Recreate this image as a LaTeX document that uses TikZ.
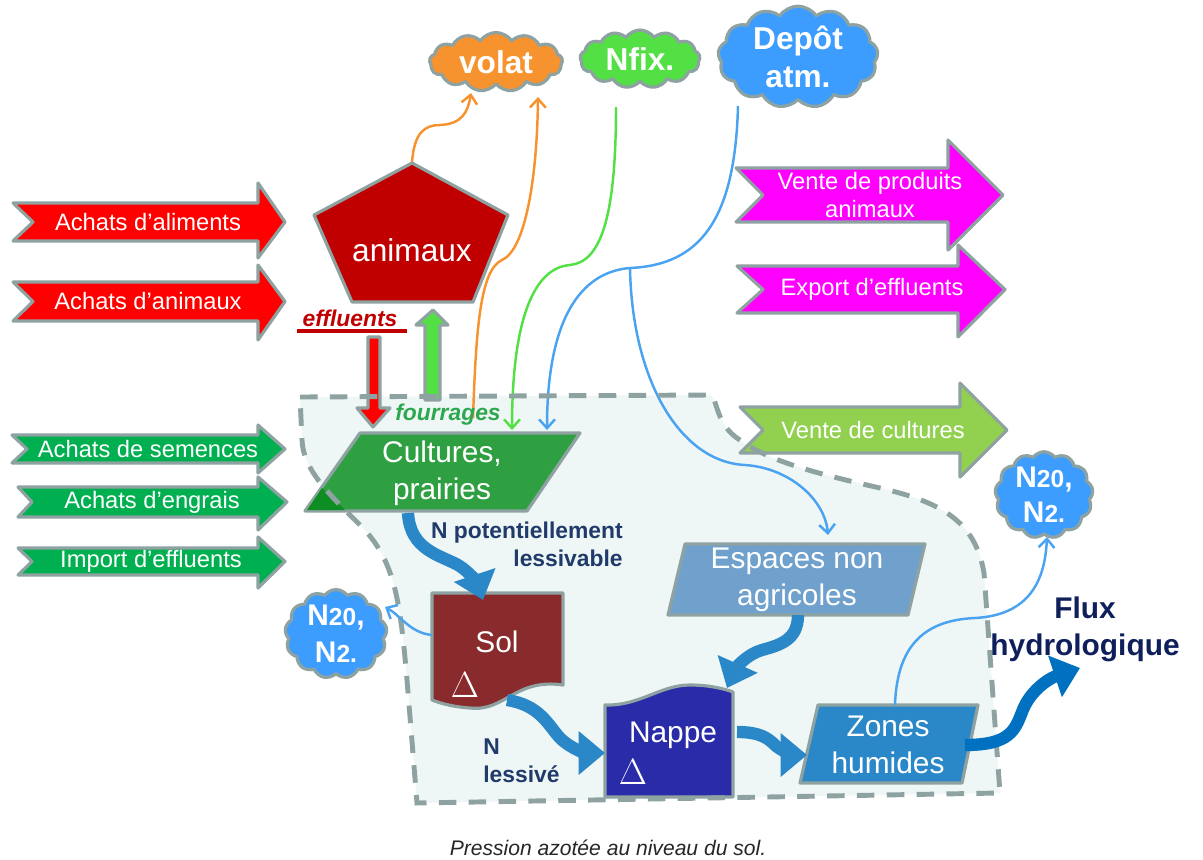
\documentclass[tikz,border=0pt]{standalone}
\usepackage{fontspec}
\setmainfont{Liberation Sans}
\usetikzlibrary{arrows.meta, shapes.symbols, calc}

\definecolor{rimgray}{HTML}{8FA2A2}
\definecolor{zonefill}{HTML}{EEF6F6}
\definecolor{inred}{HTML}{FF0000}
\definecolor{ingreen}{HTML}{00B050}
\definecolor{outpink}{HTML}{FF00FF}
\definecolor{outlime}{HTML}{92D050}
\definecolor{animred}{HTML}{C00000}
\definecolor{volorange}{HTML}{F7932E}
\definecolor{nfixgreen}{HTML}{52E044}
\definecolor{skyblue}{HTML}{3C9DFF}
\definecolor{lineblue}{HTML}{4AA3F0}
\definecolor{cultgreen}{HTML}{2FA042}
\definecolor{cultdark}{HTML}{0E8E22}
\definecolor{soilred}{HTML}{892B2C}
\definecolor{nappeblue}{HTML}{2A2BA8}
\definecolor{espblue}{HTML}{70A1CC}
\definecolor{zoneblue}{HTML}{2A88C8}
\definecolor{fluxblue}{HTML}{0070C0}
\definecolor{potnavy}{HTML}{203A6A}
\definecolor{fluxnavy}{HTML}{0E1F5C}
\definecolor{fourgreen}{HTML}{2EA84F}

\begin{document}
\begin{tikzpicture}[x=0.02cm, y=-0.02cm,
    rim/.style={draw=rimgray, line width=1.8pt, line join=round},
    arrtxt/.style={text=white, font=\fontsize{13.5}{16}\selectfont, align=center, inner sep=0pt},
    boxtxt/.style={text=white, font=\fontsize{17}{21}\selectfont, align=center, inner sep=0pt},
    puff/.style={cloud, cloud puffs=13, cloud puff arc=110, cloud ignores aspect, rim, inner sep=0pt, text=white, align=center, font=\bfseries\fontsize{18}{22}\selectfont},
    flowline/.style={line width=1.4pt, -{Straight Barb[length=5pt,width=9pt]}},
    fat/.style={line width=7pt, draw=zoneblue, -{Triangle[length=15pt,width=24pt]}},
    navytxt/.style={text=potnavy, font=\bfseries\fontsize{13}{16}\selectfont, inner sep=0pt}]

    \useasboundingbox (0,0) rectangle (1203,859);

    % --- zone de l'exploitation ---
    \def\zonepath{(300,397) -- (710,395) .. controls (718,398) and (715,425) .. (740,440)
        .. controls (765,458) and (800,470) .. (880,488) .. controls (940,502) and (975,520) .. (984,573)
        -- (1000,793) -- (417,803) -- (407,680) .. controls (400,600) and (395,560) .. (360,525)
        .. controls (330,495) and (303,470) .. (302,440) -- cycle}
    \fill[zonefill] \zonepath;

    % --- entrees / sorties ---
    \foreach \nm/\xl/\xn/\yt/\yb/\yh/\yl/\xh/\xt/\xtx/\col/\txt in {
        aliments/13/33/203/241/183/258/258/285/148/inred/{Achats d’aliments},
        achanim/13/33/282/321/265/340/258/285/148/inred/{Achats d’animaux},
        semences/12/27/435/463/425/473/258/285/148/ingreen/{Achats de semences},
        engrais/18/32/487/517/477/530/258/287/152/ingreen/{Achats d’engrais},
        import/18/32/548/575/537/588/258/285/151/ingreen/{Import d’effluents},
        produits/736/763/168/222/140/250/948/1003/870/outpink/{Vente de produits\\animaux},
        export/737/763/266/313/245/337/958/1005/872/outpink/{Export d’effluents},
        ventecult/740/763/407/453/383/477/960/1007/873/outlime/{Vente de cultures}}
    {
        \filldraw[rim, fill=\col] (\xl,\yt) -- (\xh,\yt) -- (\xh,\yh) -- (\xt,{(\yt+\yb)/2})
            -- (\xh,\yl) -- (\xh,\yb) -- (\xl,\yb) -- (\xn,{(\yt+\yb)/2}) -- cycle;
        \node[arrtxt] (\nm) at (\xtx,{(\yt+\yb)/2}) {\txt};
    }

    % --- nuages ---
    \node[puff, fill=volorange, minimum width=2.66cm, minimum height=1.18cm] (volat) at (496,62) {volat};
    \node[puff, fill=nfixgreen, minimum width=2.4cm, minimum height=1.16cm] (nfix) at (640,59) {Nfix.};
    \node[puff, fill=skyblue, minimum width=3.2cm, minimum height=1.7cm] (depot) at (798,57) {Depôt\\atm.};
    \node[puff, fill=skyblue, minimum width=2.04cm, minimum height=1.64cm, font=\bfseries\fontsize{17}{21}\selectfont]
        (gasL) at (336,634) {N{\fontsize{14}{14}\selectfont 20},\\N{\fontsize{14}{14}\selectfont 2.}};
    \node[puff, fill=skyblue, minimum width=1.96cm, minimum height=1.68cm, font=\bfseries\fontsize{17}{20}\selectfont]
        (gasR) at (1044,495) {N{\fontsize{14}{14}\selectfont 20},\\N{\fontsize{14}{14}\selectfont 2.}};

    % --- points d'accroche ---
    \coordinate (animtop) at (412,163);
    \coordinate (volin1) at (471,93);
    \coordinate (volin2) at (538,97);
    \coordinate (cultvol) at (473,418);
    \coordinate (nfixout) at (616,107);
    \coordinate (cultnfix) at (512,430);
    \coordinate (depout) at (738,106);
    \coordinate (fork) at (630,268);
    \coordinate (cultdep) at (547,430);
    \coordinate (espin) at (828,535);
    \coordinate (solgas) at (432,635);
    \coordinate (gasLin) at (385,607);
    \coordinate (zonegas) at (895,705);
    \coordinate (gasRin) at (1047,537);

    % --- flux atmospheriques ---
    \draw[flowline, draw=volorange] (animtop) .. controls (414,132) and (425,125) .. (440,125)
        .. controls (462,124) and (468,112) .. (volin1);
    \draw[flowline, draw=volorange] (cultvol) .. controls (476,330) and (480,270) .. (502,260)
        .. controls (525,250) and (537,180) .. (volin2);
    \draw[flowline, draw=nfixgreen] (nfixout) .. controls (616,220) and (600,262) .. (570,265)
        .. controls (530,268) and (512,330) .. (cultnfix);
    \draw[line width=1.4pt, draw=lineblue] (depout) .. controls (735,220) and (700,265) .. (fork);
    \draw[flowline, draw=lineblue] (fork) .. controls (580,272) and (547,320) .. (cultdep);
    \draw[flowline, draw=lineblue] (fork) .. controls (632,380) and (680,462) .. (745,465)
        .. controls (790,468) and (825,500) .. (espin);

    % --- animaux ---
    \filldraw[rim, fill=animred] (animtop) -- (508,215) -- (473,302) -- (352,302) -- (314,215) -- cycle;
    \node[boxtxt, font=\fontsize{18}{20}\selectfont] (anim) at (412,250) {animaux};

    % --- effluents / fourrages ---
    \node[text=animred, font=\bfseries\itshape\fontsize{13}{15}\selectfont, inner sep=0pt] (eff) at (350,318) {effluents};
    \draw[animred, line width=2.3pt] ($(eff.south west)+(-5,4)$) -- ($(eff.south east)+(9,4)$);
    \filldraw[rim, fill=inred] (368,337) -- (380,337) -- (380,408) -- (390,408) -- (373,427)
        -- (357,408) -- (368,408) -- cycle;
    \filldraw[rim, fill=nfixgreen] (425,400) -- (440,400) -- (440,325) -- (448,325) -- (433,310)
        -- (416,325) -- (425,325) -- cycle;
    \node[text=fourgreen, font=\bfseries\itshape\fontsize{13}{15}\selectfont, inner sep=0pt] (four) at (448,415) {fourrages};

    % --- cultures, prairies ---
    \filldraw[rim, fill=cultgreen] (360,433) -- (580,433) -- (527,511) -- (305,511) -- cycle;
    \fill[cultdark] (307,510) -- (322,488) -- (345,510) -- cycle;
    \node[boxtxt] (cult) at (442,473) {Cultures,\\prairies};

    % --- espaces non agricoles, zones humides ---
    \filldraw[rim, fill=espblue] (685,544) -- (925,544) -- (908,615) -- (668,615) -- cycle;
    \node[boxtxt] (esp) at (797,580) {Espaces non\\agricoles};
    \filldraw[rim, fill=zoneblue] (818,705) -- (978,705) -- (962,783) -- (800,783) -- cycle;
    \node[boxtxt] (zones) at (888,745) {Zones\\humides};

    % --- sol, nappe ---
    \filldraw[rim, fill=soilred] (432,593) -- (563,593) -- (563,685) .. controls (515,678) and (505,712) .. (470,708)
        .. controls (455,707) and (442,704) .. (432,700) -- cycle;
    \node[boxtxt] (sol) at (497,642) {Sol};
    \node[text=white, font=\fontsize{22}{22}\selectfont, inner sep=0pt] (soldelta) at (465,685) {$\Delta$};
    \filldraw[rim, fill=nappeblue] (605,797) -- (605,705) .. controls (640,706) and (660,685) .. (690,685)
        .. controls (710,685) and (725,689) .. (733,692) -- (733,797) -- cycle;
    \node[boxtxt] (nappe) at (673,735) {Nappe};
    \node[text=white, font=\fontsize{22}{22}\selectfont, inner sep=0pt] (nappedelta) at (633,772) {$\Delta$};

    % --- bord pointille ---
    \draw[rimgray, line width=2.8pt, dash pattern=on 10pt off 7pt] \zonepath;

    % --- flux vers N2O ---
    \draw[flowline, draw=lineblue] (solgas) .. controls (410,633) and (400,615) .. (gasLin);
    \draw[flowline, draw=lineblue] (zonegas) .. controls (897,640) and (930,620) .. (975,618)
        .. controls (1030,615) and (1045,580) .. (gasRin);

    % --- flux hydriques ---
    \coordinate (cultout) at (408,513);
    \coordinate (solin) at (483,600);
    \coordinate (solout) at (507,700);
    \coordinate (nappein) at (605,753);
    \coordinate (espout) at (798,615);
    \coordinate (nappetop) at (727,688);
    \coordinate (nappeout) at (737,732);
    \coordinate (zonein) at (807,755);
    \coordinate (zoneout) at (965,745);
    \coordinate (fluxin) at (1080,668);
    \draw[fat] (cultout) .. controls (410,550) and (440,555) .. (458,565) .. controls (470,572) and (478,585) .. (solin);
    \draw[fat] (solout) .. controls (540,705) and (548,725) .. (560,738) .. controls (572,750) and (588,753) .. (nappein);
    \draw[fat] (espout) .. controls (798,640) and (780,645) .. (762,650) .. controls (745,655) and (735,670) .. (nappetop);
    \draw[fat] (nappeout) .. controls (760,732) and (768,738) .. (776,746) .. controls (785,753) and (795,755) .. (zonein);
    \draw[fat, draw=fluxblue] (zoneout) .. controls (1010,745) and (1015,730) .. (1022,712)
        .. controls (1030,690) and (1050,678) .. (fluxin);

    % --- legendes ---
    \node[navytxt, anchor=east, align=right] (npot) at (623,544) {N potentiellement\\lessivable};
    \node[navytxt, anchor=west, align=left] (nles) at (483,761) {N\\lessivé};
    \node[text=fluxnavy, font=\bfseries\fontsize{17}{21}\selectfont, align=center, inner sep=0pt] (flux) at (1085,629) {Flux\\hydrologique};
    \node[font=\itshape\fontsize{12}{14}\selectfont, text=black!85, inner sep=0pt] (caption) at (608,848) {Pression azotée au niveau du sol.};

\end{tikzpicture}
\end{document}
